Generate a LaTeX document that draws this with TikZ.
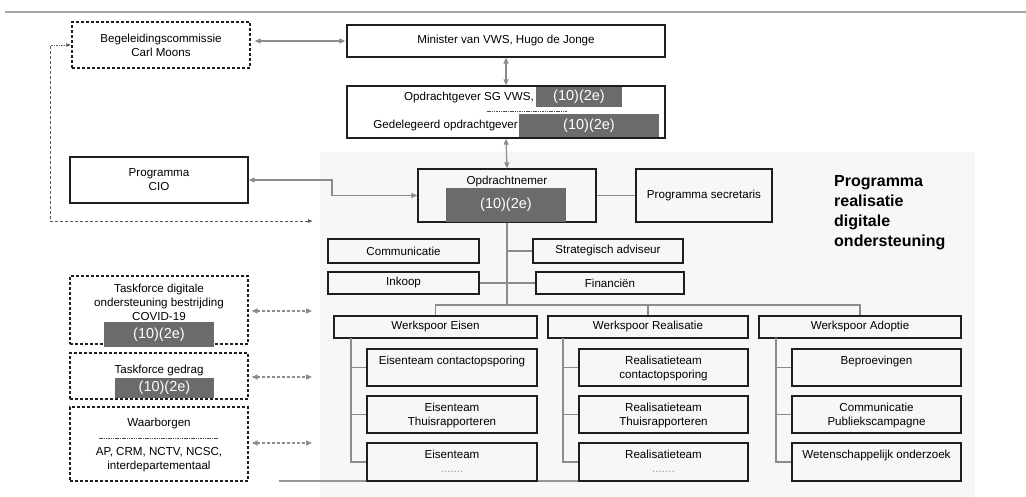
\documentclass[tikz,border=0pt]{standalone}
\usepackage{fontspec}
\setmainfont{Liberation Sans}
\usetikzlibrary{arrows.meta,calc}
\definecolor{bgc}{HTML}{F7F7F9}
\definecolor{lnc}{HTML}{8C8C8C}
\definecolor{redc}{HTML}{6B6B6B}
\definecolor{bdc}{HTML}{1E1E1E}
\newcommand\fsnorm{\fontsize{11.6}{14}\selectfont}
\begin{document}
\begin{tikzpicture}[x=1pt,y=-1pt,
  box/.style={draw=bdc,line width=1.3pt,inner sep=0pt,align=center,font=\fsnorm},
  dbox/.style={box,dash pattern=on 3pt off 2pt},
  child/.style={box,minimum width=170pt},
  redact/.style={fill=redc,inner sep=0pt,text=white,font=\fontsize{14.5}{16}\selectfont},
  txt/.style={inner sep=0pt,align=center,font=\fsnorm},
  conn/.style={draw=lnc,line width=1.2pt},
  biarrow/.style={conn,{Triangle[length=6pt,width=5pt]}-{Triangle[length=6pt,width=5pt]}},
  dasharrow/.style={biarrow,dash pattern=on 3pt off 2pt},
  ddarrow/.style={draw=black!65,line width=0.8pt,dash pattern=on 2pt off 1.2pt on 0.6pt off 1.2pt,{Latex[length=5pt,width=4pt]}-{Latex[length=5pt,width=4pt]}},
  sep/.style={draw=black!70,line width=0.5pt,dash pattern=on 1.5pt off 0.8pt}
]
\useasboundingbox (0,0) rectangle (1026,497);
\draw[draw=black!35,line width=1.2pt] (5,12) -- (1026,12);
\fill[bgc] (320,152) rectangle (975,497);

% bottom grey line
\coordinate (bl) at (279,481);
\draw[conn,draw=lnc!90] (bl) -- (579,481);

% left column
\node[dbox,minimum width=178pt,minimum height=46pt] (beg) at (161,45) {Begeleidingscommissie\\Carl Moons};
\node[box,minimum width=178pt,minimum height=46pt] (cio) at (159,180) {Programma\\CIO};
\node[dbox,minimum width=178pt,minimum height=68pt] (tf1) at (159,310) {};
\node[txt,anchor=north] (tf1t) at ($(tf1.north)+(0,8.5)$) {Taskforce digitale\\ondersteuning bestrijding\\COVID-19};
\node[redact,minimum width=110pt,minimum height=25pt] (r4) at (159,334.5) {(10)(2e)};
\node[dbox,minimum width=178pt,minimum height=46pt] (tf2) at (159,376) {};
\node[txt,anchor=north] (tf2t) at ($(tf2.north)+(0,12.5)$) {Taskforce gedrag};
\node[redact,minimum width=99pt,minimum height=20pt] (r5) at (164.5,388) {(10)(2e)};
\node[dbox,minimum width=178pt,minimum height=74pt] (waar) at (159,444) {};
\node[txt] (waar1) at (159,424) {Waarborgen};
\draw[sep] (99,438) -- (218,438);
\node[txt] (waar2) at (159,459.5) {AP, CRM, NCTV, NCSC,\\interdepartementaal};

% top middle
\node[box,minimum width=318pt,minimum height=32pt] (min) at (506,41) {Minister van VWS, Hugo de Jonge};
\node[box,minimum width=318pt,minimum height=52pt] (opg) at (506,112) {};
\node[txt,anchor=east] (og1) at (534,98) {Opdrachtgever SG VWS,};
\node[redact,minimum width=86pt,minimum height=20pt] (r1) at (579,97) {(10)(2e)};
\draw[sep] (487,111) -- (567,111);
\node[txt,anchor=east] (og2) at (518,126) {Gedelegeerd opdrachtgever};
\node[redact,minimum width=140pt,minimum height=23pt] (r2) at (589,125.5) {(10)(2e)};

% programme
\node[box,minimum width=178pt,minimum height=53pt] (opn) at (507,195.5) {};
\node[txt] (opnt) at (507,182) {Opdrachtnemer};
\node[redact,minimum width=120pt,minimum height=34pt] (r3) at (506,205) {(10)(2e)};
\node[box,minimum width=136pt,minimum height=53pt] (sec) at (704,195.5) {Programma secretaris};
\node[anchor=north west,inner sep=0pt,align=left,font=\bfseries\fontsize{16}{20}\selectfont] (title) at (834,175) {Programma\\realisatie\\digitale\\ondersteuning};

\node[box,minimum width=151pt,minimum height=24pt] (comm) at (403.5,251) {Communicatie};
\node[box,minimum width=151pt,minimum height=22pt] (ink) at (403.5,283) {Inkoop};
\node[box,minimum width=150pt,minimum height=24pt] (strat) at (608,251) {Strategisch adviseur};
\node[box,minimum width=148pt,minimum height=22pt] (fin) at (610,283) {Financiën};

\node[box,minimum width=203pt,minimum height=22pt] (wE) at (435.5,327) {Werkspoor Eisen};
\node[box,minimum width=200pt,minimum height=22pt] (wR) at (648,327) {Werkspoor Realisatie};
\node[box,minimum width=202pt,minimum height=22pt] (wA) at (860,327) {Werkspoor Adoptie};

% children
\node[child,minimum height=37pt] (e1) at (452,367.5) {};
\node[child,minimum height=37pt] (e2) at (452,414.5) {};
\node[child,minimum height=38pt] (e3) at (452,462) {};
\node[child,minimum height=37pt,minimum width=169pt] (q1) at (663.5,367.5) {};
\node[child,minimum height=37pt,minimum width=169pt] (q2) at (663.5,414.5) {};
\node[child,minimum height=38pt,minimum width=169pt] (q3) at (663.5,462) {};
\node[child,minimum height=37pt,minimum width=169pt] (a1) at (876.5,367.5) {};
\node[child,minimum height=37pt,minimum width=169pt] (a2) at (876.5,414.5) {};
\node[child,minimum height=38pt,minimum width=169pt] (a3) at (876.5,462) {};

\node[txt,anchor=north] (e1t) at ($(e1.north)+(0,7.5)$) {Eisenteam contactopsporing};
\node[txt,anchor=north] (e2t) at ($(e2.north)+(0,7.5)$) {Eisenteam\\Thuisrapporteren};
\node[txt,anchor=north] (e3t) at ($(e3.north)+(0,7.5)$) {Eisenteam\\{\color{black!40}.......}};
\node[txt,anchor=north] (q1t) at ($(q1.north)+(0,7.5)$) {Realisatieteam\\contactopsporing};
\node[txt,anchor=north] (q2t) at ($(q2.north)+(0,7.5)$) {Realisatieteam\\Thuisrapporteren};
\node[txt,anchor=north] (q3t) at ($(q3.north)+(0,7.5)$) {Realisatieteam\\{\color{black!40}.......}};
\node[txt,anchor=north] (a1t) at ($(a1.north)+(0,7.5)$) {Beproevingen};
\node[txt,anchor=north] (a2t) at ($(a2.north)+(0,7.5)$) {Communicatie\\Publiekscampagne};
\node[txt,anchor=north] (a3t) at ($(a3.north)+(0,7.5)$) {Wetenschappelijk onderzoek};

% connectors
\draw[biarrow,shorten <=4pt,shorten >=1pt] (beg.east |- min.west) -- (min.west);
\draw[biarrow] (min.south) -- (opg.north);
\draw[biarrow] (opg.south) -- (opn.north);
\coordinate (bend) at (332,180);
\draw[biarrow] (cio.east) -- (bend) |- (opn.west);
\coordinate (dd) at (313,221);
\coordinate (ddc) at (50,221);
\draw[ddarrow] (dd) -- (ddc) |- (beg.west);
\draw[conn] (opn.east) -- (sec.west);
\coordinate (bus) at (508,305);
\draw[conn] (opn.south) -- (opn.south |- bus);
\draw[conn] (opn.south |- strat.west) -- (strat.west);
\draw[conn] (ink.east) -- (fin.west);
\draw[conn] (wE.north) -- (wE.north |- bus) -- (wA.north |- bus) -- (wA.north);
\draw[conn] (wR.north) -- (wR.north |- bus);

\coordinate (eS) at (351,338);
\coordinate (qS) at (563,338);
\coordinate (aS) at (776,338);
\draw[conn] (eS) |- (e3.west);
\draw[conn] (eS |- e1.west) -- (e1.west);
\draw[conn] (eS |- e2.west) -- (e2.west);
\draw[conn] (qS) |- (q3.west);
\draw[conn] (qS |- q1.west) -- (q1.west);
\draw[conn] (qS |- q2.west) -- (q2.west);
\draw[conn] (aS) |- (a3.west);
\draw[conn] (aS |- a1.west) -- (a1.west);
\draw[conn] (aS |- a2.west) -- (a2.west);

\coordinate (da1) at (312,311);
\coordinate (da2) at (312,377);
\coordinate (da3) at (312,443);
\draw[dasharrow,shorten <=3pt] (tf1.east |- da1) -- (da1);
\draw[dasharrow,shorten <=3pt] (tf2.east |- da2) -- (da2);
\draw[dasharrow,shorten <=3pt] (waar.east |- da3) -- (da3);
\end{tikzpicture}
\end{document}
